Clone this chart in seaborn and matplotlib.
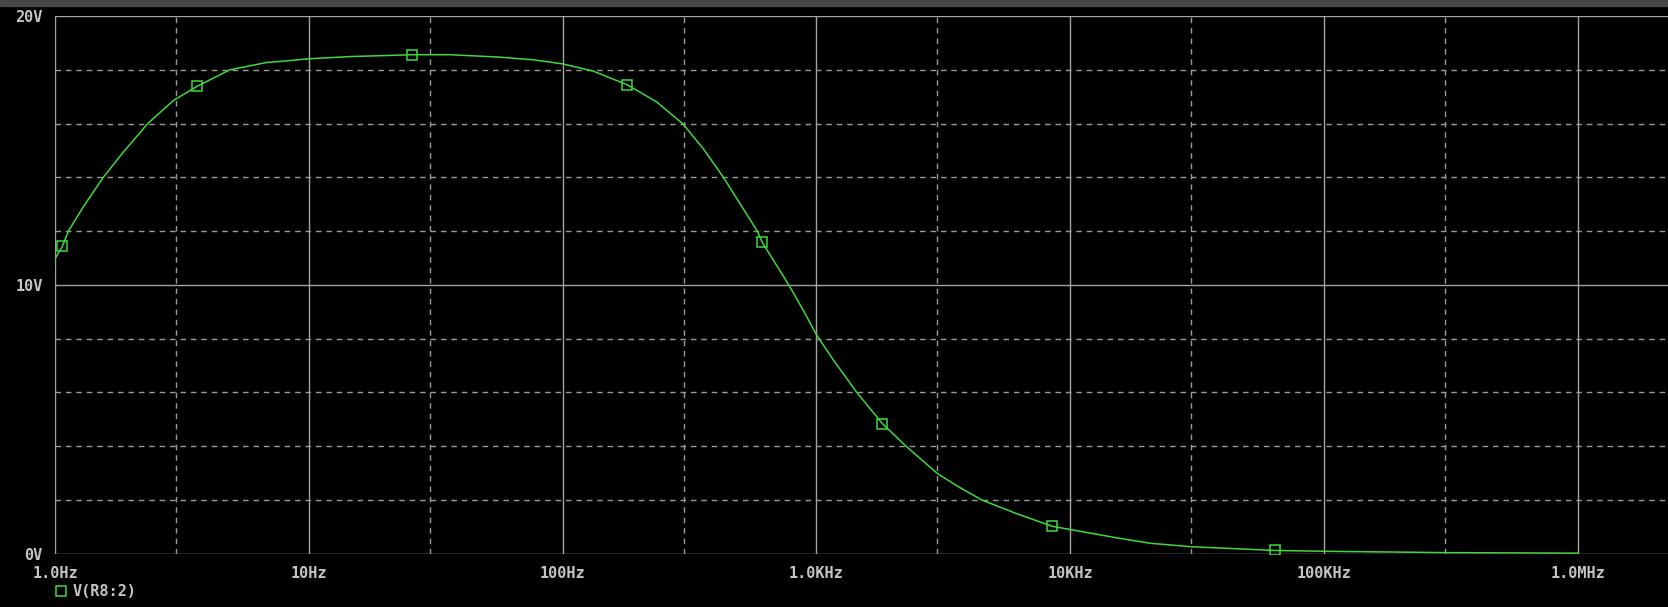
import matplotlib
matplotlib.use("Agg")
import matplotlib.pyplot as plt
import matplotlib.patches as mpatches
from matplotlib.lines import Line2D
import seaborn as sns
import pandas as pd

# ---- data ----
freq_hz = [1.0, 1.07, 1.13, 1.29, 1.55, 1.86, 2.32, 2.93, 3.64, 4.89, 6.82, 7.94, 10.0,
           14.5, 25.6, 30.0, 36.0, 56.6, 76.7, 100.0, 132.0, 180.0, 235.0, 297.0, 358.0,
           430.0, 515.0, 585.0, 612.0, 778.0, 888.0, 1000.0, 1167.0, 1442.0, 1819.0,
           2254.0, 3000.0, 3570.0, 4478.0, 6150.0, 8490.0, 10000.0, 15240.0, 20600.0,
           30000.0, 64000.0, 100000.0, 300000.0, 1000000.0]
volts = [10.97, 11.44, 12.0, 12.89, 14.0, 14.94, 16.0, 16.86, 17.39, 18.0, 18.27, 18.32, 18.41,
         18.49, 18.56, 18.56, 18.56, 18.47, 18.37, 18.22, 17.95, 17.44, 16.8, 16.0, 15.07,
         14.0, 12.83, 12.0, 11.58, 10.0, 9.05, 8.15, 7.2, 6.0, 4.84,
         4.0, 2.98, 2.53, 2.0, 1.49, 1.02, 0.90, 0.59, 0.39,
         0.26, 0.12, 0.09, 0.04, 0.02]
marker_freq = [1.07, 3.64, 25.6, 180.0, 612.0, 1819.0, 8490.0, 64000.0]
marker_volts = [11.44, 17.39, 18.56, 17.44, 11.58, 4.84, 1.02, 0.12]
x_ticks = [1, 10, 100, 1e3, 1e4, 1e5, 1e6]
x_tick_labels = ["1.0Hz", "10Hz", "100Hz", "1.0KHz", "10KHz", "100KHz", "1.0MHz"]
x_minor = [3, 30, 300, 3e3, 3e4, 3e5]
y_ticks = [0, 10, 20]
y_tick_labels = ["0V", "10V", "20V"]
y_minor = [2, 4, 6, 8, 12, 14, 16, 18]
trace_name = "V(R8:2)"

GREEN = "#3fd93f"
GRID = "#a4a4a4"
TXT = "#c4c4c4"
W, H = 1668, 607

sns.set_style("dark")
plt.rcParams["font.family"] = ["DejaVu Sans Mono", "DejaVu Sans"]

fig = plt.figure(figsize=(W / 100, H / 100), dpi=100)
fig.patch.set_facecolor("black")
left, right, top, bottom = 55, 1668, 16, 553.7
ax = fig.add_axes([left / W, (H - bottom) / H, (right - left) / W, (bottom - top) / H])
ax.set_facecolor("black")

df = pd.DataFrame({"freq": freq_hz, "volt": volts})
mk = pd.DataFrame({"freq": marker_freq, "volt": marker_volts})

ax.set_xscale("log")
ax.set_xlim(1.0, 10 ** ((right - left) / 253.8))
ax.set_ylim(0, 20)

# grid
ax.set_xticks(x_ticks)
ax.set_xticklabels(x_tick_labels)
ax.set_xticks(x_minor, minor=True)
ax.set_yticks(y_ticks)
ax.set_yticklabels(y_tick_labels)
ax.set_yticks(y_minor, minor=True)
ax.xaxis.set_minor_formatter(matplotlib.ticker.NullFormatter())
ax.grid(False)
ax.grid(True, which="major", color=GRID, lw=1.0, ls="-")
ax.grid(True, which="minor", color="#9a9a9a", lw=1.0, ls=(0, (4, 3.5)))
ax.set_axisbelow(True)

sns.lineplot(data=df, x="freq", y="volt", ax=ax, color=GREEN, lw=1.1, zorder=5)
ax.plot(mk["freq"], mk["volt"], ls="none", marker="s", ms=7, mfc="none",
        mec=GREEN, mew=1.1, zorder=6)

for s in ax.spines.values():
    s.set_visible(False)
ax.set_xlabel("")
ax.set_ylabel("")
ax.tick_params(axis="x", which="both", length=0, pad=9, colors=TXT, labelsize=11)
ax.tick_params(axis="y", which="major", length=6, width=1, color=GRID, pad=3,
               colors=TXT, labelsize=11)
ax.tick_params(axis="y", which="minor", length=0)
for lab in ax.get_xticklabels() + ax.get_yticklabels():
    lab.set_fontweight("bold")
    lab.set_color(TXT)
for t in ax.yaxis.get_major_ticks():
    t.tick1line.set_color(GRID)

# legend below the plot
leg = fig.legend(handles=[Line2D([], [], ls="none", marker="s", ms=7, mfc="none",
                                 mec=GREEN, mew=1.1)],
                 labels=[trace_name], loc="center left",
                 bbox_to_anchor=(47 / W, 1 - 592 / H), frameon=False,
                 handlelength=0.8, handletextpad=0.4, borderpad=0,
                 prop={"family": "DejaVu Sans Mono", "weight": "bold", "size": 11})
for t in leg.get_texts():
    t.set_color(TXT)

# window title bar strip
fig.patches.append(mpatches.Rectangle((0, 1 - 6 / H), 1, 6 / H, transform=fig.transFigure,
                                      color="#474747", zorder=0))

fig.savefig("out.png", dpi=100, facecolor="black")
